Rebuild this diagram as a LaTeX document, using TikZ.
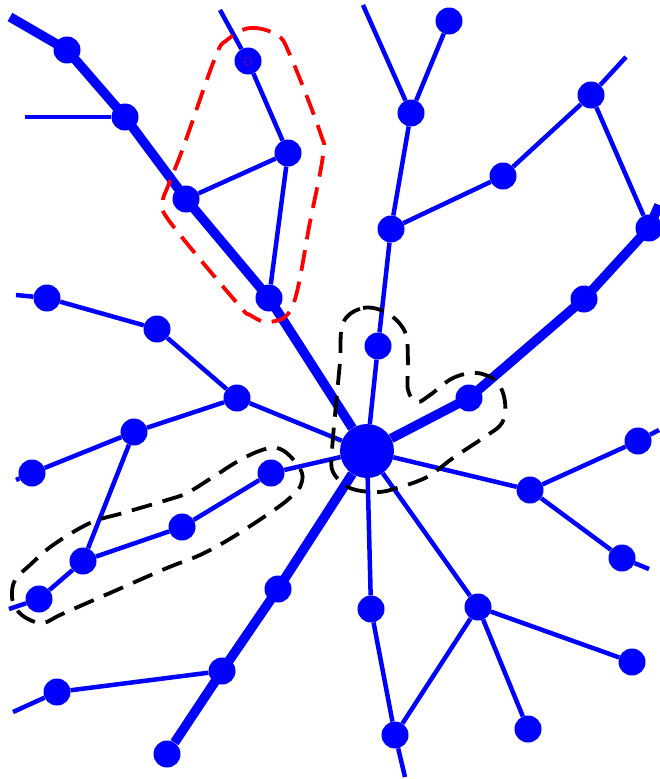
\documentclass[tikz,border=0pt]{standalone}
\usetikzlibrary{backgrounds}

\begin{document}
\begin{tikzpicture}[
    x=1pt, y=-1pt,
    % node styles
    dot/.style = {
      circle,
      fill=blue,
      draw=none,
      inner sep=0pt,
      minimum size=27pt
    },
    hubdot/.style = {dot, minimum size=54pt},
    % line styles
    twig/.style = {line width=4.5pt, draw=blue},
    trunk/.style = {line width=9.5pt, draw=blue},
    hull/.style = {line width=3.8pt, dash pattern=on 21pt off 11pt}
  ]
  \useasboundingbox (0,0) rectangle (659,779);

  % --- Nodes
  \node[hubdot] (hub) at (367,451) {};

  \node[dot] (a1) at (67,50) {};
  \node[dot] (a2) at (125,117) {};
  \node[dot] (a3) at (186,199) {};
  \node[dot] (b1) at (248,61) {};
  \node[dot] (b2) at (288,153) {};
  \node[dot] (c1) at (269,298) {};

  \node[dot] (d1) at (47,298) {};
  \node[dot] (d2) at (157,329) {};
  \node[dot] (d3) at (237,398) {};
  \node[dot] (e1) at (134,432) {};
  \node[dot] (e2) at (32,473) {};

  \node[dot] (f1) at (271,473) {};
  \node[dot] (g1) at (182,527) {};
  \node[dot] (f2) at (83,561) {};
  \node[dot] (f3) at (39,599) {};

  \node[dot] (h1) at (278,589) {};
  \node[dot] (h2) at (222,671) {};
  \node[dot] (h3) at (167,754) {};
  \node[dot] (k1) at (57,692) {};

  \node[dot] (m1) at (378,346) {};
  \node[dot] (m2) at (391,229) {};
  \node[dot] (m3) at (411,113) {};
  \node[dot] (m4) at (449,21) {};
  \node[dot] (n1) at (503,176) {};
  \node[dot] (n2) at (591,95) {};
  \node[dot] (n3) at (649,228) {};
  \node[dot] (p1) at (469,398) {};
  \node[dot] (p2) at (584,299) {};

  \node[dot] (q1) at (530,490) {};
  \node[dot] (q2) at (638,441) {};
  \node[dot] (q3) at (622,558) {};
  \node[dot] (r1) at (371,609) {};
  \node[dot] (r2) at (395,735) {};
  \node[dot] (s1) at (478,607) {};
  \node[dot] (s2) at (632,662) {};
  \node[dot] (s3) at (528,729) {};

  % loose ends
  \coordinate (tl0) at (10,17);
  \coordinate (a2e) at (25,117);
  \coordinate (b1e) at (220,10);
  \coordinate (d1e) at (16,295);
  \coordinate (e2e) at (16,480);
  \coordinate (f3e) at (9,609);
  \coordinate (k1e) at (13,712);
  \coordinate (m3e) at (363,5);
  \coordinate (n2e) at (626,57);
  \coordinate (p3e) at (659,205);
  \coordinate (q2e) at (659,430);
  \coordinate (q3e) at (649,569);
  \coordinate (r2e) at (405,777);

  % --- Branches
  \begin{scope}[on background layer]
    \draw[trunk] (tl0) -- (a1.center) -- (a2.center) -- (a3.center) -- (c1.center) -- (hub);
    \draw[trunk] (hub) -- (p1.center) -- (p2.center) -- (n3.center) -- (p3e);
    \draw[trunk] (hub) -- (h1.center) -- (h2.center) -- (h3);

    \draw[twig] (a2e) -- (a2);
    \draw[twig] (b1e) -- (b1) -- (b2) -- (c1);
    \draw[twig] (a3) -- (b2);

    \draw[twig] (d1e) -- (d1) -- (d2) -- (d3) -- (hub);
    \draw[twig] (d3) -- (e1) -- (e2) -- (e2e);
    \draw[twig] (e1) -- (f2);
    \draw[twig] (hub) -- (f1) -- (g1) -- (f2) -- (f3) -- (f3e);
    \draw[twig] (k1e) -- (k1) -- (h2);

    \draw[twig] (hub) -- (m1) -- (m2) -- (m3) -- (m4);
    \draw[twig] (m3e) -- (m3);
    \draw[twig] (m2) -- (n1) -- (n2) -- (n2e);
    \draw[twig] (n2) -- (n3);

    \draw[twig] (hub) -- (q1) -- (q2) -- (q2e);
    \draw[twig] (q1) -- (q3) -- (q3e);
    \draw[twig] (hub) -- (r1) -- (r2) -- (r2e);
    \draw[twig] (hub) -- (s1) -- (s2);
    \draw[twig] (s1) -- (s3);
    \draw[twig] (s1) -- (r2);
  \end{scope}

  % --- Groups
  \draw[hull, red] plot[smooth cycle, tension=0.6] coordinates {
    (227,40) (250,28) (277,35) (290,55) (320,132) (323,155)
    (310,222) (293,305) (270,322) (250,315) (237,303)
    (170,222) (163,202) (168,186) (183,148) (215,58)};
  \draw[red, line width=0.4pt, densely dashed] (b1) circle (4);

  \draw[hull] plot[smooth cycle, tension=0.6] coordinates {
    (343,323) (363,308) (387,313) (405,332) (408,362) (408,390)
    (417,402) (430,395) (453,378) (477,373) (497,382) (505,402)
    (502,423) (483,438) (453,458) (427,477) (397,488) (377,492)
    (350,488) (333,472) (332,452) (335,415) (340,362)};

  \draw[hull] plot[smooth cycle, tension=0.6] coordinates {
    (262,450) (277,448) (290,456) (302,473) (300,487) (293,495)
    (277,508) (233,537) (200,555) (167,568) (110,593) (87,603)
    (60,615) (43,623) (28,619) (17,610) (12,597) (15,580)
    (30,565) (53,545) (90,523) (123,513) (167,500) (187,493)
    (213,477) (240,460)};

\end{tikzpicture}
\end{document}
